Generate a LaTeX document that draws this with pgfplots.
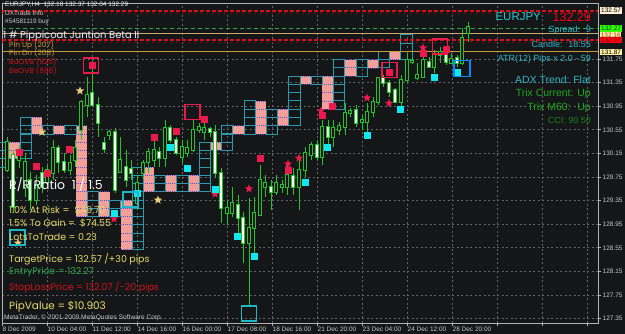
\documentclass[border=0pt]{standalone}
\usepackage{pgfplots}
\pgfplotsset{compat=1.18}
\usepackage{pgfplotstable}
\usepackage{fontspec}
\setmainfont{Liberation Sans}
\newfontfamily\comic{Poppins}
\newcommand\fs[1]{\fontsize{#1}{#1}\selectfont}
\definecolor{bg}{HTML}{141617}
\definecolor{gridc}{HTML}{5E6468}
\definecolor{framec}{HTML}{B0B4B8}
\definecolor{wick}{HTML}{22C42A}
\definecolor{bodyw}{HTML}{F2FFF0}
\definecolor{tealbox}{HTML}{2A9AAC}
\definecolor{salmon}{HTML}{F2A099}
\definecolor{pnfdot}{HTML}{5A4FD8}
\definecolor{mred}{HTML}{EB1A4C}
\definecolor{mcyan}{HTML}{12E6F0}
\definecolor{mgold}{HTML}{E8CC7A}
\definecolor{lred}{HTML}{D0141E}
\definecolor{ldred}{HTML}{7A0A10}
\definecolor{lgreen}{HTML}{2BA84A}
\definecolor{ltan}{HTML}{C8A870}
\definecolor{lgoldl}{HTML}{C89A3C}
\definecolor{ttext}{HTML}{C8C8C8}
\definecolor{cyantxt}{HTML}{2EB6C8}
\definecolor{greentxt}{HTML}{1FA81F}
\definecolor{yeltxt}{HTML}{E6DC6A}

\pgfdeclareplotmark{pnfo}{\pgfpathrectangle{\pgfqpoint{-5.6bp}{-4.15bp}}{\pgfqpoint{11.2bp}{8.3bp}}\pgfusepathqstroke}
\pgfdeclareplotmark{pnff}{%
 \pgfpathrectangle{\pgfqpoint{-5.6bp}{-4.15bp}}{\pgfqpoint{11.2bp}{8.3bp}}\pgfusepathqfill
 \pgfsetdash{{1bp}{1bp}}{0bp}%
 \pgfpathmoveto{\pgfqpoint{-5.6bp}{4.15bp}}\pgfpathlineto{\pgfqpoint{5.6bp}{4.15bp}}%
 \pgfpathmoveto{\pgfqpoint{-5.6bp}{-4.15bp}}\pgfpathlineto{\pgfqpoint{5.6bp}{-4.15bp}}%
 \pgfusepathqstroke}
\pgfdeclareplotmark{fstar}{%
 \pgfpathmoveto{\pgfpointpolar{90}{\pgfplotmarksize}}%
 \pgfpathlineto{\pgfpointpolar{126}{0.42\pgfplotmarksize}}%
 \pgfpathlineto{\pgfpointpolar{162}{\pgfplotmarksize}}%
 \pgfpathlineto{\pgfpointpolar{198}{0.42\pgfplotmarksize}}%
 \pgfpathlineto{\pgfpointpolar{234}{\pgfplotmarksize}}%
 \pgfpathlineto{\pgfpointpolar{270}{0.42\pgfplotmarksize}}%
 \pgfpathlineto{\pgfpointpolar{306}{\pgfplotmarksize}}%
 \pgfpathlineto{\pgfpointpolar{342}{0.42\pgfplotmarksize}}%
 \pgfpathlineto{\pgfpointpolar{18}{\pgfplotmarksize}}%
 \pgfpathlineto{\pgfpointpolar{54}{0.42\pgfplotmarksize}}%
 \pgfpathclose\pgfusepathqfill}

% bearish candles (white bodies): x high low bodytop bodybottom
\pgfplotstableread{
x hi lo top bot
13 130.21 129.14 130.12 129.24
30 129.83 129.19 129.70 129.36
42 129.92 129.48 129.82 129.58
58 130.29 129.82 130.24 130.00
64 130.16 129.82 130.00 129.87
92 131.60 130.94 131.17 130.97
98 131.11 130.43 130.97 130.67
104 130.43 130.16 130.33 130.22
115 130.58 129.48 130.51 129.53
126 130.21 129.58 129.92 129.70
131 130.04 129.70 129.89 129.82
159 130.26 129.92 130.17 130.07
170 130.63 130.33 130.58 130.38
176 130.43 130.12 130.38 130.16
210 130.60 130.43 130.56 130.51
215 130.63 129.75 130.51 129.82
221 129.90 128.97 129.82 129.22
238 129.45 128.68 129.28 129.06
243 129.16 128.29 129.06 128.63
271 129.70 129.19 129.58 129.50
293 129.90 129.45 129.77 129.58
317 130.38 130.04 130.29 130.09
328 130.72 130.26 130.60 130.43
356 130.97 130.60 130.89 130.67
383 131.48 131.28 131.43 131.34
389 131.39 131.11 131.34 131.19
395 131.26 131.00 131.22 131.02
429 131.78 131.60 131.70 131.61
446 131.87 131.65 131.82 131.70
457 131.82 131.61 131.77 131.68
}\whitec
% bullish candles (dark bodies)
\pgfplotstableread{
x hi lo top bot
7 130.43 129.83 130.34 129.87
19 130.29 129.90 130.21 130.04
25 130.16 129.41 130.00 129.58
36 129.78 129.28 129.61 129.36
47 129.95 129.56 129.87 129.66
53 130.38 129.70 130.24 129.82
70 130.12 129.78 129.99 129.87
75 130.38 129.92 130.24 130.04
81 131.06 130.38 131.02 130.55
87 131.44 130.77 131.14 130.97
109 130.55 130.38 130.51 130.46
120 130.43 129.82 130.04 129.83
137 129.78 129.19 129.65 129.31
143 130.04 129.70 129.99 129.82
148 130.24 129.82 130.17 130.00
154 130.38 129.92 130.21 130.04
165 130.72 129.92 130.58 130.07
182 130.38 129.99 130.26 130.09
187 130.38 130.09 130.24 130.16
193 130.72 130.17 130.55 130.21
199 130.67 130.49 130.60 130.55
204 130.67 130.38 130.58 130.51
227 129.36 128.94 129.22 129.14
232 129.58 129.07 129.31 129.14
249 129.39 127.55 128.89 128.63
254 129.41 128.46 129.14 128.89
260 129.95 129.11 129.70 129.11
265 129.78 129.41 129.65 129.58
276 129.78 129.45 129.65 129.50
282 129.70 129.48 129.61 129.58
287 129.95 129.45 129.78 129.58
299 130.07 129.19 129.87 129.58
305 130.26 129.75 130.16 129.87
311 130.34 130.04 130.29 130.12
322 130.72 129.95 130.60 130.09
333 130.72 130.26 130.58 130.43
339 130.68 130.46 130.61 130.55
345 131.00 130.46 130.83 130.60
350 130.92 130.77 130.87 130.83
362 130.80 130.55 130.72 130.68
367 131.00 130.49 130.85 130.68
373 131.11 130.77 131.02 130.85
378 131.44 130.97 131.43 131.02
401 131.48 130.94 131.39 131.02
407 131.85 131.36 131.73 131.39
412 131.78 131.66 131.72 131.70
417 131.68 131.39 131.48 131.43
423 131.90 131.43 131.73 131.44
434 131.90 131.51 131.82 131.61
440 131.95 131.68 131.87 131.82
451 131.85 131.68 131.75 131.68
462 132.28 131.65 132.11 131.68
468 132.38 132.04 132.29 132.19
}\darkc
% point and figure boxes, rising columns (outlined)
\pgfplotstableread{
x y
3.2 130.27
3.2 130.13
3.2 129.99
25.6 130.69
25.6 130.55
25.6 130.41
25.6 130.27
25.6 130.13
48.0 130.55
70.4 130.55
92.8 129.43
92.8 129.29
92.8 129.15
115.2 129.29
115.2 129.15
137.6 129.85
137.6 129.71
137.6 129.57
137.6 129.43
137.6 129.29
137.6 129.15
137.6 129.01
137.6 128.87
137.6 128.73
137.6 128.59
160.0 129.71
160.0 129.57
182.4 129.71
182.4 129.57
204.8 130.27
204.8 130.13
204.8 129.99
204.8 129.85
204.8 129.71
204.8 129.57
227.2 130.55
227.2 130.41
227.2 130.27
249.6 130.97
249.6 130.83
249.6 130.69
249.6 130.55
272.0 130.83
272.0 130.69
272.0 130.55
294.4 131.39
294.4 131.25
294.4 131.11
294.4 130.97
294.4 130.83
294.4 130.69
316.8 131.39
339.2 131.67
339.2 131.53
339.2 131.39
339.2 131.25
339.2 131.11
339.2 130.97
361.6 131.67
361.6 131.53
384.0 131.81
384.0 131.67
406.4 132.09
406.4 131.95
406.4 131.81
}\pnfup
% falling columns (filled)
\pgfplotstableread{
x y
14.4 130.27
14.4 130.13
36.8 130.69
36.8 130.55
59.2 130.55
81.6 130.55
81.6 130.41
81.6 130.27
81.6 130.13
81.6 129.99
81.6 129.85
81.6 129.71
81.6 129.57
81.6 129.43
81.6 129.29
81.6 129.15
104.0 129.43
104.0 129.29
104.0 129.15
126.4 129.29
126.4 129.15
126.4 129.01
126.4 128.87
126.4 128.73
126.4 128.59
148.8 129.85
148.8 129.71
148.8 129.57
171.2 129.71
171.2 129.57
193.6 129.71
193.6 129.57
216.0 130.27
238.4 130.55
260.8 130.97
260.8 130.83
260.8 130.69
260.8 130.55
283.2 130.83
283.2 130.69
305.6 131.39
328.0 131.39
328.0 131.25
328.0 131.11
328.0 130.97
350.4 131.67
350.4 131.53
372.8 131.67
395.2 131.81
}\pnfdown

\begin{document}
\begin{tikzpicture}
\path[use as bounding box] (0,0) rectangle (625bp,334bp);
\fill[bg] (0,0) rectangle (625bp,334bp);
\begin{axis}[
 at={(2bp,11bp)}, anchor=south west,
 scale only axis, width=596bp, height=320bp,
 xmin=2, xmax=598, ymin=127.275, ymax=132.699,
 axis background/.style={fill=bg},
 axis line style={framec, line width=0.8bp},
 clip mode=individual,
 xtick pos=bottom, ytick pos=right, yticklabel pos=right,
 xtick={2,47,92,137,182,227,272,317,362,407,452,497,542,587},
 xticklabels={8 Dec 2009,10 Dec 04:00,11 Dec 12:00,14 Dec 16:00,16 Dec 00:00,17 Dec 08:00,18 Dec 16:00,21 Dec 20:00,23 Dec 04:00,24 Dec 12:00,28 Dec 20:00,,,},
 ytick={127.35,127.75,128.15,128.55,128.95,129.35,129.75,130.15,130.55,130.95,131.35,131.75},
 /pgf/number format/assume math mode=true,
 yticklabel style={anchor=west, font=\fs{6.5}, text=ttext, inner sep=1bp, xshift=1bp,
   /pgf/number format/fixed, /pgf/number format/precision=2, /pgf/number format/fixed zerofill},
 xticklabel style={anchor=north west, font=\fs{6.5}, text=ttext, inner sep=1bp, xshift=-0.5bp},
 tick align=outside, major tick length=2.5bp, tick style={framec, line width=0.6bp},
 grid=major, grid style={gridc, dash pattern=on 2bp off 2.5bp, line width=0.6bp},
]
% point & figure boxes
\addplot[only marks, mark=pnff, mark options={fill=salmon, draw=pnfdot, line width=0.7bp}] table[x=x,y=y] {\pnfdown};
\addplot[only marks, mark=pnfo, mark options={draw=tealbox, line width=0.8bp}] table[x=x,y=y] {\pnfup};
% horizontal levels
\addplot[lred, line width=2bp, dash pattern=on 4bp off 2bp] coordinates {(2,132.57) (598,132.57)};
\addplot[ldred, line width=1bp, dash pattern=on 2bp off 4bp] coordinates {(2,132.52) (598,132.52)};
\addplot[lgreen, line width=1bp, dash pattern=on 4bp off 3bp] coordinates {(2,132.27) (598,132.27)};
\addplot[ltan, line width=1bp] coordinates {(2,132.19) (598,132.19)};
\addplot[lred, line width=2.2bp, dash pattern=on 4bp off 2bp] coordinates {(2,132.07) (598,132.07)};
\addplot[ldred, line width=1bp, dash pattern=on 2bp off 4bp] coordinates {(2,132.03) (598,132.03)};
\addplot[lgoldl, line width=1bp] coordinates {(2,131.87) (598,131.87)};
% wicks
\addplot[draw=none, mark=none, error bars/.cd, y dir=both, y explicit, error mark=none, error bar style={wick, line width=1bp}]
 table[x=x, y expr={(\thisrow{hi}+\thisrow{lo})/2}, y error expr={(\thisrow{hi}-\thisrow{lo})/2}] {\whitec};
\addplot[draw=none, mark=none, error bars/.cd, y dir=both, y explicit, error mark=none, error bar style={wick, line width=1bp}]
 table[x=x, y expr={(\thisrow{hi}+\thisrow{lo})/2}, y error expr={(\thisrow{hi}-\thisrow{lo})/2}] {\darkc};
% bodies
\addplot[draw=none, mark=none, error bars/.cd, y dir=both, y explicit, error mark=none, error bar style={wick, line width=4bp}]
 table[x=x, y expr={(\thisrow{top}+\thisrow{bot})/2}, y error expr={(\thisrow{top}-\thisrow{bot})/2+0.015}] {\whitec};
\addplot[draw=none, mark=none, error bars/.cd, y dir=both, y explicit, error mark=none, error bar style={bodyw, line width=2.3bp}]
 table[x=x, y expr={(\thisrow{top}+\thisrow{bot})/2}, y error expr={(\thisrow{top}-\thisrow{bot})/2}] {\whitec};
\addplot[draw=none, mark=none, error bars/.cd, y dir=both, y explicit, error mark=none, error bar style={wick, line width=4bp}]
 table[x=x, y expr={(\thisrow{top}+\thisrow{bot})/2}, y error expr={(\thisrow{top}-\thisrow{bot})/2+0.015}] {\darkc};
\addplot[draw=none, mark=none, error bars/.cd, y dir=both, y explicit, error mark=none, error bar style={bg, line width=2.3bp}]
 table[x=x, y expr={(\thisrow{top}+\thisrow{bot})/2}, y error expr={(\thisrow{top}-\thisrow{bot})/2}] {\darkc};
% signal markers
\addplot[only marks, mark=square*, mark size=3bp, mark options={fill=mred, draw=mred}] coordinates {
 (19,130.17) (36,129.94) (47,129.82) (69,130.22) (92,131.65) (154,130.43) (176,130.53) (204,130.73)
 (260,130.07) (288,129.87) (322,130.80) (332,130.95) (389,131.53) (423,131.85) (446,131.92)};
\addplot[only marks, mark=fstar, mark size=4.5bp, mark options={fill=mred}] coordinates {
 (114,129.04) (215,129.46) (249,129.55) (288,129.97) (299,130.07) (321,130.87) (367,131.09) (389,131.00) (423,131.94)};
\addplot[only marks, mark=fstar, mark size=4.5bp, mark options={fill=mgold}] coordinates {
 (80,131.21) (42,130.51) (158,129.36) (18,128.63)};
\addplot[only marks, mark=square*, mark size=3bp, mark options={fill=mcyan, draw=mcyan}] coordinates {
 (137,129.48) (114,129.14) (170,130.26) (187,129.90) (215,129.55) (237,128.75) (254,128.41)
 (305,129.67) (327,130.26) (367,130.45) (400,130.90) (434,131.44) (457,131.53)};
\addplot[only marks, mark=square, mark size=7.5bp, mark options={draw=mred, line width=1.6bp}] coordinates {
 (91,131.64) (192.5,130.85) (389.5,131.56) (440,131.96)};
\addplot[only marks, mark=square, mark size=7.5bp, mark options={draw=tealbox!70!cyan, line width=1.5bp}] coordinates {
 (17.5,128.72) (130.5,129.37) (249,127.44)};
\addplot[only marks, mark=square, mark size=8bp, mark options={draw=blue!45!cyan, line width=1.8bp}] coordinates {
 (462,131.59)};
% price tags on the right scale
\node[anchor=west, fill=yellow!20!orange!15!white, text=black, font=\fs{6.5}, inner sep=1bp, xshift=2bp] at (axis cs:598,132.57) {132.57};
\node[anchor=west, fill=green!75!lime, text=black!70!green, font=\fs{6.5}, inner sep=1bp, xshift=2bp] at (axis cs:598,132.27) {132.27};
\node[anchor=west, fill=yellow!40!orange!30!white, text=orange!60!black, font=\fs{6.5}, inner sep=0.6bp, xshift=2bp] at (axis cs:598,132.16) {132.16};
\node[anchor=west, fill=red!90!magenta, text=red!50!black, font=\fs{6.5}, inner sep=1bp, xshift=2bp] at (axis cs:598,132.07) {132.07};
\node[anchor=west, fill=orange!30!yellow!35!white, text=black, font=\fs{6.5}, inner sep=1bp, xshift=2bp] at (axis cs:598,131.87) {131.87};
\end{axis}
\begin{scope}[shift={(0,334bp)}, x=1bp, y=-1bp]
% top-left info
\node[anchor=west, inner sep=0, text=white!90!gray, font=\fs{6.5}] at (5,4.5) {EURJPY,H4 \ 132.18 132.37 132.04 132.29};
\node[anchor=west, inner sep=0, text=ttext, font=\fs{6.5}] at (5,13.5) {DXTrade Info};
\node[anchor=west, inner sep=0, text=ttext, font=\fs{6.5}] at (5,22) {\#54581119 buy};
\node[anchor=west, inner sep=0, text=blue!8!white, font=\comic\fs{10}] at (3,36.5) {1 \# Pippicoat Juntion Beta II};
\node[anchor=west, inner sep=0, text=lgoldl, font=\comic\fs{7.5}] at (9,44.5) {Pin Up (207)};
\node[anchor=west, inner sep=0, text=lgoldl, font=\comic\fs{7.5}] at (9,52.5) {Pin Dn (208)};
\node[anchor=west, inner sep=0, text=lred, font=\comic\fs{7.5}] at (9,62) {BuOVB (825)};
\node[anchor=west, inner sep=0, text=lred, font=\comic\fs{7.5}] at (9,71) {BeOVB (886)};
% money management block
\node[anchor=west, inner sep=0, text=white, font=\comic\fs{12.5}] at (9,185) {R/R Ratio \ 1 / 1.5};
\node[anchor=west, inner sep=0, text=yeltxt, font=\comic\fs{9.5}] at (9,210) {1.0\% At Risk = \ \$49.70};
\node[anchor=west, inner sep=0, text=yeltxt, font=\comic\fs{9.5}] at (9,223.5) {1.5\% To Gain = \ \$74.55};
\node[anchor=west, inner sep=0, text=yeltxt, font=\comic\fs{9.5}] at (9,237.5) {LotsToTrade = 0.23};
\node[anchor=west, inner sep=0, text=yeltxt, font=\comic\fs{9.5}] at (9,259) {TargetPrice = 132.57 /+30 pips};
\node[anchor=west, inner sep=0, text=lgreen, font=\comic\fs{9.5}] at (9,272.5) {EntryPrice = 132.27};
\node[anchor=west, inner sep=0, text=lred, font=\comic\fs{9.5}] at (9,287) {StopLossPrice = 132.07 /-20 pips};
\node[anchor=west, inner sep=0, text=yeltxt, font=\comic\fs{10.5}] at (9,307) {PipValue = \$10.903};
\node[anchor=west, inner sep=0, text=ttext, font=\fs{6.6}] at (4,317.5) {MetaTrader, © 2001-2009 MetaQuotes Software Corp.};
% right info block
\node[anchor=east, inner sep=0, text=cyantxt!70!cyan, font=\fs{11.5}] at (541,17) {EURJPY};
\node[anchor=east, inner sep=0, text=red!90!magenta, font=\fs{12.5}] at (591,17) {132.29};
\node[anchor=east, inner sep=0, text=cyantxt, font=\fs{9}] at (591,30.5) {Spread: \ 9};
\node[anchor=east, inner sep=0, text=cyantxt, font=\fs{9}] at (591,44.5) {Candle: \ 18:55};
\node[anchor=east, inner sep=0, text=cyantxt, font=\fs{9}] at (591,59) {ATR(12) Pips x 2.0 - 59};
\node[anchor=east, inner sep=0, text=cyantxt, font=\fs{10.5}] at (591,80) {ADX Trend: Flat};
\node[anchor=east, inner sep=0, text=greentxt, font=\fs{10.5}] at (591,93.5) {Trix Current: Up};
\node[anchor=east, inner sep=0, text=greentxt, font=\fs{10.5}] at (591,107.5) {Trix M60: \ Up};
\node[anchor=east, inner sep=0, text=greentxt!80!black, font=\fs{9}] at (591,120.5) {CCI: 90 50};
\end{scope}
\end{tikzpicture}
\end{document}
